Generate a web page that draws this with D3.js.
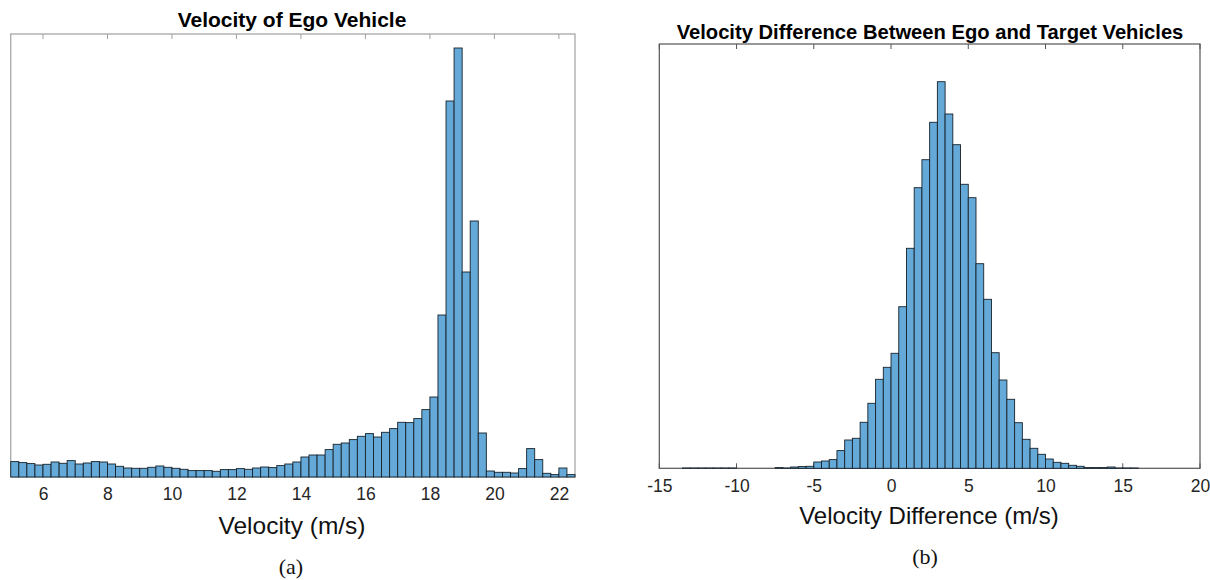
<!DOCTYPE html>
<html><head><meta charset="utf-8">
<script src="https://cdn.jsdelivr.net/npm/d3@7"></script>
<style>body{margin:0;background:#fff}svg{display:block}</style>
</head><body>
<svg id="c" width="1210" height="580"></svg>
<script>
// ---- Data ----
const egoBinStart = 5, egoBinWidth = 0.25;
const egoCounts = [154,144,134,120,127,150,137,164,130,140,
  154,150,130,107,90,87,87,97,110,97,
  87,77,64,64,64,57,74,74,84,77,
  90,100,94,114,130,150,200,220,220,274,
  327,340,374,407,434,400,447,484,547,544,
  584,674,800,1620,3760,4290,2050,2560,440,60,
  47,47,40,84,284,174,37,24,90,24];
const egoTicks = [6,8,10,12,14,16,18,20,22];

const diffBinStart = -15, diffBinWidth = 0.5;
const diffCounts = [0,0,0,3,3,3,3,3,3,3,
  0,0,0,0,0,7,3,13,17,20,
  63,73,87,177,283,300,460,650,890,1010,
  1150,1616,2200,2806,3086,3460,3866,3543,3236,2840,
  2706,2046,1690,1156,883,690,456,290,200,140,
  93,60,50,30,20,7,7,7,13,3,
  3,3,0,0,0,0,0,0,0,0];
const diffTicks = [-15,-10,-5,0,5,10,15,20];

const svg = d3.select('#c');
const fill = 'rgb(100,169,215)';
const edge = '#17222b';

function hist(cfg){
  const g = svg.append('g');
  const x = d3.scaleLinear().domain(cfg.xdom).range([cfg.x0, cfg.x1]);
  const y = d3.scaleLinear().domain([0, cfg.ymax]).range([cfg.y1, cfg.y0]);
  cfg.ticks.forEach(t=>{
    g.append('line').attr('x1',x(t)).attr('x2',x(t)).attr('y1',cfg.y0).attr('y2',cfg.y0+5)
      .attr('stroke',cfg.axisColor).attr('stroke-width',1);
    g.append('line').attr('x1',x(t)).attr('x2',x(t)).attr('y1',cfg.y1).attr('y2',cfg.y1-5)
      .attr('stroke',cfg.axisColor).attr('stroke-width',1);
  });
  g.append('rect').attr('x',cfg.x0).attr('y',cfg.y0).attr('width',cfg.x1-cfg.x0).attr('height',cfg.y1-cfg.y0)
    .attr('fill','none').attr('stroke',cfg.axisColor).attr('stroke-width',1.2);
  const bins = cfg.counts.map((c,i)=>({x0: cfg.start + i*cfg.w, x1: cfg.start+(i+1)*cfg.w, c})).filter(d=>d.c>0);
  g.selectAll('rect.bar').data(bins).enter().append('rect').attr('class','bar')
    .attr('x',d=>x(d.x0)).attr('width',d=>x(d.x1)-x(d.x0))
    .attr('y',d=>y(d.c)).attr('height',d=>y(0)-y(d.c))
    .attr('fill',fill).attr('stroke',edge).attr('stroke-width',0.9);
  const ax = g.append('g').attr('transform',`translate(0,${cfg.y1})`)
    .call(d3.axisBottom(x).tickValues(cfg.ticks).tickSize(0).tickPadding(cfg.tickPad).tickFormat(d=>String(d)));
  ax.select('.domain').remove();
  ax.selectAll('text').attr('font-family','Liberation Sans, Arial, sans-serif').attr('font-size',17.5).attr('fill','#262626');
  g.append('text').attr('x',cfg.titleX).attr('y',cfg.titleY).attr('text-anchor','middle')
    .attr('font-family','Liberation Sans, Arial, sans-serif').attr('font-weight','bold').attr('font-size',cfg.titleSize)
    .attr('fill','#000').text(cfg.title);
  g.append('text').attr('x',cfg.labelX).attr('y',cfg.labelY).attr('text-anchor','middle')
    .attr('font-family','Liberation Sans, Arial, sans-serif').attr('font-size',cfg.labelSize)
    .attr('fill','#111').text(cfg.label);
  g.append('text').attr('x',cfg.capX).attr('y',cfg.capY).attr('text-anchor','middle')
    .attr('font-family','Liberation Serif, DejaVu Serif, serif').attr('font-size',22)
    .attr('fill','#111').text(cfg.cap);
}

hist({xdom:[5,22.5], x0:10.75, x1:575, y0:34, y1:477, ymax:4430,
  counts: egoCounts, start: egoBinStart, w: egoBinWidth, ticks: egoTicks, axisColor:'#a0a0a0', tickPad:11,
  title:'Velocity of Ego Vehicle', titleX:292, titleY:27, titleSize:21,
  label:'Velocity (m/s)', labelX:292, labelY:534, labelSize:24.5, cap:'(a)', capX:291, capY:574});

hist({xdom:[-15,20], x0:659.3, x1:1200, y0:44, y1:468.3, ymax:4243,
  counts: diffCounts, start: diffBinStart, w: diffBinWidth, ticks: diffTicks, axisColor:'#555', tickPad:11,
  title:'Velocity Difference Between Ego and Target Vehicles', titleX:930, titleY:39, titleSize:20.2,
  label:'Velocity Difference (m/s)', labelX:929, labelY:524, labelSize:24, cap:'(b)', capX:925, capY:564});
</script>
</body></html>
